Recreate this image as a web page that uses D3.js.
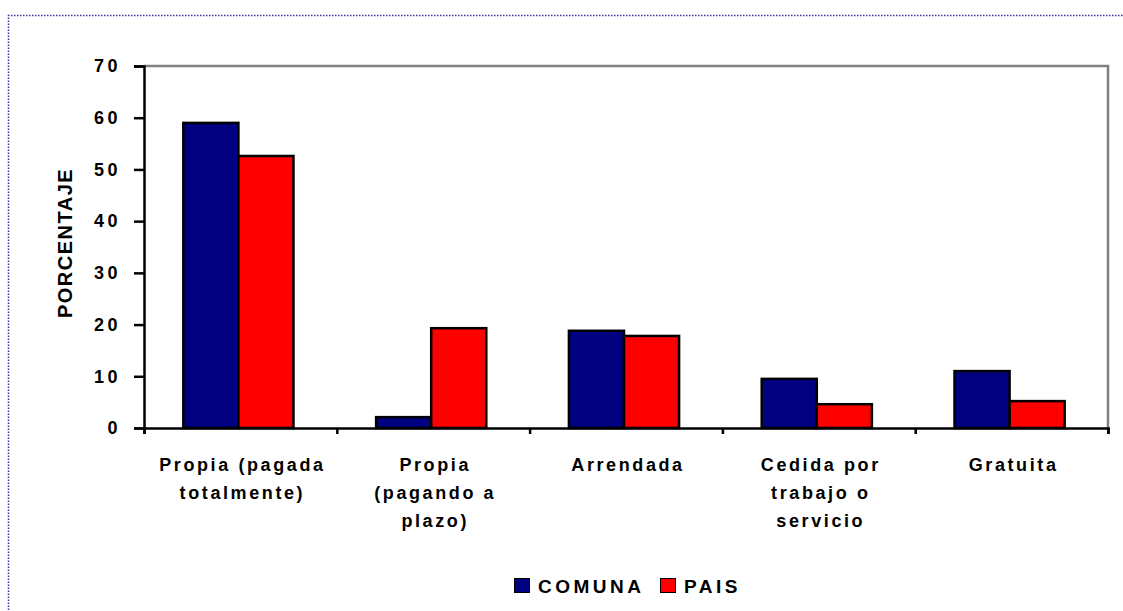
<!DOCTYPE html>
<html>
<head>
<meta charset="utf-8">
<script src="https://cdn.jsdelivr.net/npm/d3@7"></script>
<style>
  body { margin: 0; background: #fff; }
  svg { display: block; font-family: "Liberation Sans", Arial, sans-serif; }
</style>
</head>
<body>
<div class="chart"></div>
<script>
// data
const categories = [
  ["Propia (pagada", "totalmente)"],
  ["Propia", "(pagando a", "plazo)"],
  ["Arrendada"],
  ["Cedida por", "trabajo o", "servicio"],
  ["Gratuita"]
];
const seriesNames = ["COMUNA", "PAIS"];
const comuna = [59.0, 2.1, 18.8, 9.5, 11.0];
const pais = [52.6, 19.3, 17.8, 4.6, 5.2];
const yTicks = [0, 10, 20, 30, 40, 50, 60, 70];

const width = 1123, height = 611;
const colors = ["#000080", "#ff0000"];
const plotL = 144, plotR = 1108, plotT = 66, plotB = 428;

const svg = d3.select(".chart").append("svg")
  .attr("width", width)
  .attr("height", height);

// dotted frame
svg.append("path")
  .attr("d", `M8.5,${height + 5} V15.5 H${width + 5}`)
  .attr("fill", "none")
  .attr("stroke", "#3333a0")
  .attr("stroke-width", 1.5)
  .attr("stroke-dasharray", "1.5,1.5");

const x = d3.scaleBand().domain(d3.range(categories.length)).range([plotL, plotR]);
const y = d3.scaleLinear().domain([0, 70]).range([plotB, plotT]);
const inner = d3.scaleBand().domain(seriesNames).range([0, x.bandwidth()]).paddingOuter(0.75).paddingInner(0);

// top & right plot border
svg.append("path")
  .attr("d", `M${plotL},${plotT} H${plotR} V${plotB}`)
  .attr("fill", "none")
  .attr("stroke", "#808080")
  .attr("stroke-width", 2.5);

// bars
const rows = categories.map((c, i) => [comuna[i], pais[i]]);
svg.append("g")
  .selectAll("g")
  .data(rows)
  .join("g")
  .attr("transform", (d, i) => `translate(${x(i) - 2},0)`)
  .selectAll("rect")
  .data(d => d.map((v, j) => ({v, s: seriesNames[j], j})))
  .join("rect")
  .attr("x", d => inner(d.s))
  .attr("y", d => y(d.v))
  .attr("width", inner.bandwidth())
  .attr("height", d => y(0) - y(d.v))
  .attr("fill", d => colors[d.j])
  .attr("stroke", "#000")
  .attr("stroke-width", 2.5);

// y axis
const yAxis = svg.append("g")
  .attr("transform", `translate(${plotL},0)`)
  .call(d3.axisLeft(y).tickValues(yTicks).tickSize(10).tickPadding(13));
yAxis.select(".domain").attr("stroke-width", 2.5);
yAxis.selectAll(".tick line").attr("stroke-width", 2.5);
yAxis.selectAll("text")
  .attr("font-size", 18)
  .attr("font-weight", "bold")
  .attr("letter-spacing", 3.5)
  .attr("fill", "#000");

// x axis
const xAxis = svg.append("g")
  .attr("transform", `translate(0,${plotB})`)
  .call(d3.axisBottom(d3.scaleLinear().domain([0, 5]).range([plotL, plotR]))
    .tickValues(d3.range(6)).tickSize(6).tickFormat(""));
xAxis.select(".domain").attr("stroke-width", 2.5);
xAxis.selectAll(".tick line").attr("stroke-width", 2.5);

// category labels
svg.append("g")
  .selectAll("text")
  .data(categories)
  .join("text")
  .attr("x", (d, i) => x(i) + x.bandwidth() / 2 + 2)
  .attr("y", 471)
  .attr("text-anchor", "middle")
  .attr("font-size", 18)
  .attr("font-weight", "bold")
  .attr("letter-spacing", 2.6)
  .selectAll("tspan")
  .data(d => d)
  .join("tspan")
  .attr("x", function () { return this.parentNode.getAttribute("x"); })
  .attr("dy", (d, k) => k === 0 ? 0 : 28)
  .text(d => d);

// y title
svg.append("text")
  .attr("transform", "translate(72,243) rotate(-90)")
  .attr("text-anchor", "middle")
  .attr("font-size", 20)
  .attr("font-weight", "bold")
  .attr("letter-spacing", 1.5)
  .text("PORCENTAJE");

// legend
const legend = svg.append("g").attr("transform", "translate(514,593)");
const legendX = [0, 146];
seriesNames.forEach((name, i) => {
  legend.append("rect")
    .attr("x", legendX[i] + 0.5).attr("y", -14.5)
    .attr("width", 15).attr("height", 14)
    .attr("fill", colors[i]).attr("stroke", "#000").attr("stroke-width", 1);
  legend.append("text")
    .attr("x", legendX[i] + 24).attr("y", 0)
    .attr("font-size", 19)
    .attr("font-weight", "bold")
    .attr("letter-spacing", 3.5)
    .text(name);
});
</script>
</body>
</html>
